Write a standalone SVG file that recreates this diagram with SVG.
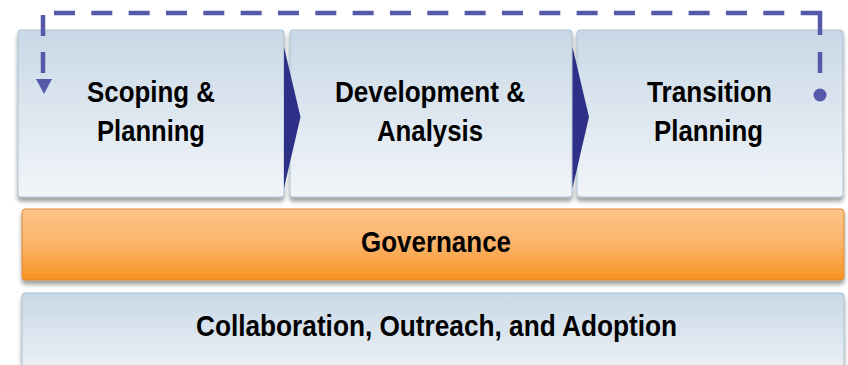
<svg xmlns="http://www.w3.org/2000/svg" width="848" height="365" viewBox="0 0 848 365">
<defs>
<linearGradient id="gBlue" x1="0" y1="0" x2="0" y2="1">
<stop offset="0" stop-color="#c9d8e6"/>
<stop offset="1" stop-color="#f1f5f9"/>
</linearGradient>
<linearGradient id="gOrange" x1="0" y1="0" x2="0" y2="1">
<stop offset="0" stop-color="#fdc58a"/>
<stop offset="0.5" stop-color="#fbb36a"/>
<stop offset="1" stop-color="#f7931e"/>
</linearGradient>
<filter id="sh" x="-5%" y="-10%" width="110%" height="130%">
<feDropShadow dx="0" dy="4" stdDeviation="2.2" flood-color="#000" flood-opacity="0.38"/>
</filter>
</defs>
<style>
.box{fill:url(#gBlue);stroke:#a9c0d2;stroke-width:1;filter:url(#sh)}
.gov{fill:url(#gOrange);stroke:#d98a3a;stroke-width:1;filter:url(#sh)}
.t{font-family:"Liberation Sans Narrow","Liberation Sans",Arial,sans-serif;font-weight:bold;font-size:30px;fill:#000;text-anchor:middle}
.dash{fill:none;stroke:#5659aa;stroke-width:4.5}
.tri{fill:#2e3087}
</style>
<rect width="848" height="365" fill="#fff"/>
<g id="collab">
<rect class="box" x="22" y="293" width="822" height="90" rx="3"/>
<text class="t" x="436.5" y="336" textLength="481" lengthAdjust="spacingAndGlyphs">Collaboration, Outreach, and Adoption</text>
</g>
<g id="governance">
<rect class="gov" x="22" y="209" width="822" height="71" rx="3"/>
<text class="t" x="436" y="252" textLength="150" lengthAdjust="spacingAndGlyphs">Governance</text>
</g>
<g id="scoping">
<rect class="box" x="18" y="30" width="266" height="167" rx="3"/>
<text class="t" x="151" y="101.5" textLength="128" lengthAdjust="spacingAndGlyphs">Scoping &amp;</text>
<text class="t" x="151" y="141" textLength="108" lengthAdjust="spacingAndGlyphs">Planning</text>
</g>
<g id="development">
<rect class="box" x="290" y="30" width="282" height="167" rx="3"/>
<text class="t" x="430" y="101.5" textLength="190" lengthAdjust="spacingAndGlyphs">Development &amp;</text>
<text class="t" x="430" y="141" textLength="106" lengthAdjust="spacingAndGlyphs">Analysis</text>
</g>
<g id="transition">
<rect class="box" x="577" y="30" width="266" height="167" rx="3"/>
<text class="t" x="709.5" y="101.5" textLength="125" lengthAdjust="spacingAndGlyphs">Transition</text>
<text class="t" x="708.5" y="141" textLength="109" lengthAdjust="spacingAndGlyphs">Planning</text>
</g>
<g id="connectors">
<polygon class="tri" points="284,47 300.5,117 284,188"/>
<polygon class="tri" points="572.5,47 589,117 572.5,188"/>
<path class="dash" d="M54,13 H796" stroke-dasharray="21 16.33"/>
<path class="dash" d="M800.7,13 H820 V35"/>
<path class="dash" d="M820,52 V73"/>
<circle cx="820" cy="95" r="6.5" fill="#5659aa"/>
<path class="dash" d="M43,15 V36 M43,52 V73"/>
<polygon fill="#5659aa" points="36,79 52,79 44,94"/>
</g>
</svg>
